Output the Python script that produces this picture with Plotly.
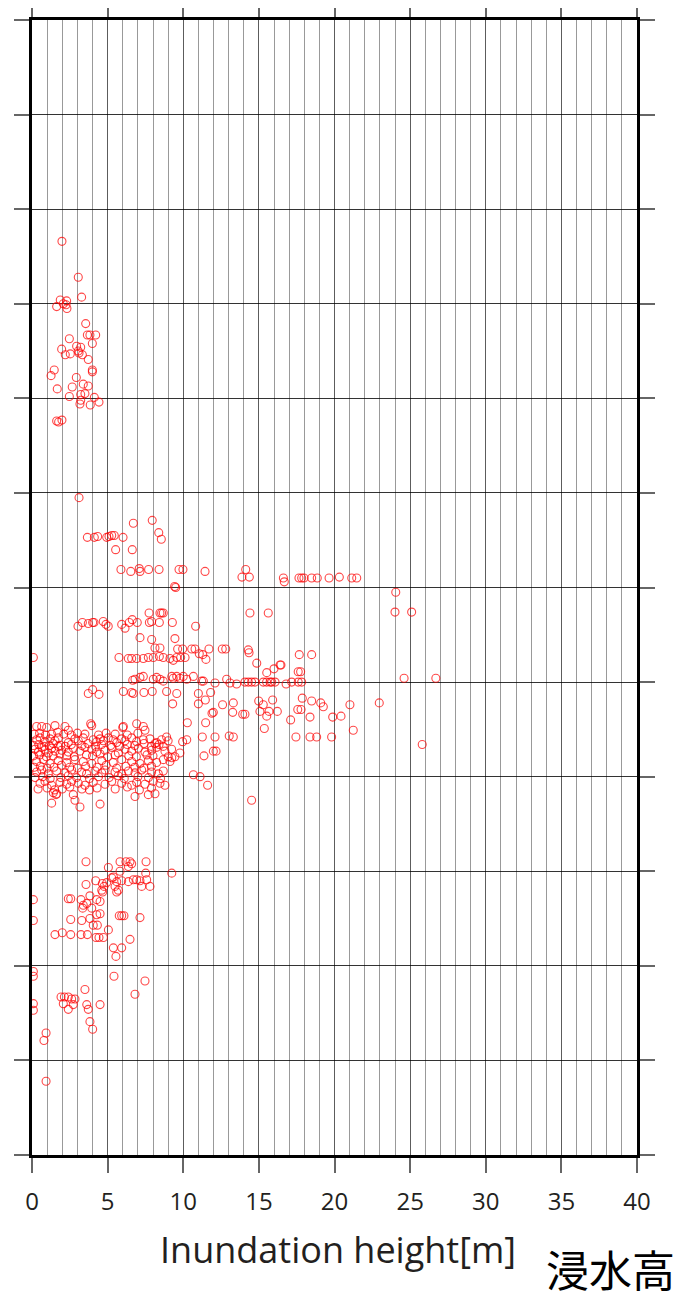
import plotly.graph_objects as go

# ---- data: inundation height [m] (x) and along-coast position (y, grid units, no labels) ----
top_x = [1.98, 3.06, 3.28, 1.87, 2.29, 1.63, 2.25, 2.31, 2.07, 3.55, 3.66, 3.83, 4.21, 3.99, 2.47,
         1.96, 2.95, 3.22, 3.06, 3.11, 2.20, 2.53, 3.33, 3.72, 1.47, 1.26, 3.99, 3.99, 2.93, 1.67,
         2.66, 3.39, 3.72, 3.50, 3.22, 2.47, 4.12, 4.43, 3.85, 3.17, 3.22, 1.63, 1.98, 1.76, 3.11]
top_y = [9.66, 9.28, 9.07, 9.04, 9.03, 8.97, 8.99, 8.95, 9.00, 8.79, 8.67, 8.67, 8.67, 8.58, 8.63,
         8.52, 8.55, 8.54, 8.50, 8.48, 8.46, 8.47, 8.46, 8.41, 8.30, 8.24, 8.28, 8.30, 8.22, 8.10,
         8.12, 8.15, 8.13, 8.05, 8.04, 8.02, 8.01, 7.96, 7.93, 7.94, 7.98, 7.76, 7.77, 7.75, 6.95]

mid_x = [6.70, 7.95, 8.38, 8.55, 3.66, 4.12, 4.34, 4.94, 5.09, 5.27, 5.44, 6.02, 5.53, 6.63,
         5.88, 6.53, 7.09, 7.14, 7.71, 8.40, 9.72, 9.98, 11.44, 14.13, 13.88, 14.37, 16.62, 16.68,
         17.65, 17.83, 17.98, 18.49, 18.86, 19.64, 20.32, 21.14, 21.47, 9.43, 9.50, 24.05, 24.00, 25.10,
         7.74, 8.46, 8.57, 8.68, 14.41, 15.62,
         3.04, 3.33, 3.72, 4.01, 4.10, 4.71, 4.89, 5.04, 5.93, 6.15, 6.43, 6.63, 6.96, 7.76, 7.91,
         8.42, 9.28, 10.82, 7.14, 7.91, 9.45,
         8.13, 8.46, 9.63, 9.96, 10.56, 10.78, 11.70, 12.58, 12.81, 14.30, 11.06, 11.29, 11.50, 14.35,
         14.86, 16.40, 15.52, 16.00, 17.60, 17.76, 17.67, 18.49, 16.46,
         0.09, 5.75, 6.37, 6.59, 6.92, 7.36, 7.69, 8.02, 8.42, 8.68, 9.12, 9.34, 9.57, 9.83, 10.12]
mid_y = [6.68, 6.71, 6.58, 6.51, 6.53, 6.53, 6.54, 6.53, 6.54, 6.55, 6.55, 6.53, 6.40, 6.40,
         6.19, 6.17, 6.20, 6.17, 6.19, 6.19, 6.19, 6.19, 6.17, 6.19, 6.11, 6.11, 6.10, 6.06,
         6.10, 6.10, 6.10, 6.10, 6.10, 6.10, 6.11, 6.10, 6.10, 6.01, 6.00, 5.95, 5.74, 5.74,
         5.73, 5.73, 5.73, 5.73, 5.73, 5.73,
         5.59, 5.63, 5.62, 5.63, 5.63, 5.64, 5.61, 5.59, 5.61, 5.57, 5.63, 5.66, 5.63, 5.63, 5.64,
         5.63, 5.63, 5.59, 5.47, 5.45, 5.46,
         5.36, 5.36, 5.35, 5.35, 5.35, 5.35, 5.35, 5.35, 5.35, 5.34, 5.30, 5.29, 5.24, 5.31,
         5.20, 5.18, 5.10, 5.14, 5.11, 5.11, 5.29, 5.29, 5.18,
         5.26, 5.26, 5.25, 5.25, 5.25, 5.25, 5.26, 5.26, 5.27, 5.26, 5.25, 5.23, 5.26, 5.26, 5.26]

five_x = [6.66, 6.81, 7.14, 7.36, 8.02, 8.24, 8.46, 8.68, 9.24, 9.34, 9.57, 9.78, 10.00, 10.23,
          10.67, 11.22, 11.33, 12.10, 12.87, 13.09, 13.53, 14.08, 14.30, 14.52, 14.74, 15.29, 15.51,
          15.74, 15.85, 16.07, 16.80, 17.17, 17.60, 17.83, 24.60, 26.70,
          3.72, 4.01, 4.43, 6.04, 6.59, 6.70, 7.40, 7.95, 8.90, 9.57, 9.30, 11.00, 11.81, 11.46, 11.00,
          12.60, 13.31, 13.27, 14.08, 13.93, 14.99, 15.29, 15.91, 15.07, 15.52, 15.67, 16.22, 17.10,
          17.87, 18.49, 19.09, 19.26, 17.57, 17.79, 18.38, 19.88, 20.43, 11.99, 11.90, 10.27, 11.48,
          15.36, 22.96, 21.02, 21.24, 19.81, 25.80,
          11.26, 12.10, 13.04, 13.31, 17.45, 18.38, 18.82, 11.37, 11.99, 12.17, 10.67, 11.11, 11.61, 14.52]
five_y = [5.02, 5.03, 5.05, 5.06, 5.03, 5.05, 5.03, 5.01, 5.06, 5.04, 5.06, 5.04, 5.06, 5.03,
          5.06, 5.01, 5.01, 4.99, 5.03, 4.99, 4.98, 5.00, 5.00, 5.00, 5.00, 5.00, 5.00,
          5.00, 5.00, 5.00, 4.98, 5.00, 5.00, 5.00, 5.04, 5.04,
          4.88, 4.92, 4.87, 4.90, 4.89, 4.88, 4.89, 4.90, 4.90, 4.88, 4.77, 4.88, 4.89, 4.81, 4.77,
          4.76, 4.78, 4.68, 4.66, 4.66, 4.80, 4.76, 4.81, 4.69, 4.64, 4.69, 4.69, 4.60,
          4.83, 4.80, 4.78, 4.74, 4.71, 4.71, 4.63, 4.63, 4.64, 4.68, 4.67, 4.57, 4.57,
          4.51, 4.78, 4.76, 4.49, 4.42, 4.34,
          4.42, 4.42, 4.43, 4.42, 4.42, 4.42, 4.42, 4.22, 4.27, 4.27, 4.02, 4.00, 3.91, 3.75]

dense_x = [0.31, 0.64, 0.97, 1.52, 2.18, 3.95, 6.04, 7.36, 2.40, 7.47, 3.88, 6.00, 6.92,
           0.31, 0.53, 0.86, 1.19, 1.52, 1.74, 2.40, 2.84, 3.06, 3.39, 4.05, 4.28, 4.50, 4.71, 5.04,
           5.37, 5.60, 5.93, 6.15, 6.59, 6.92, 7.36, 7.80, 8.24, 8.57, 9.00, 8.90, 10.23, 9.96,
           0.20, 0.42, 0.64, 0.86, 1.08, 1.30, 1.52, 1.74, 1.96, 2.40, 2.73, 3.17, 3.50, 3.95, 4.28,
           4.83, 5.27, 5.71, 6.15, 6.59, 7.03, 7.47, 7.91, 8.24, 8.79, 9.23, 9.78, 9.45, 9.24, 9.01,
           8.68, 8.13,
           0.31, 0.75, 1.19, 1.74, 2.29, 2.84, 3.39, 3.95, 4.61, 5.37, 5.93, 6.59, 7.14, 7.69, 8.24,
           8.68, 9.12,
           0.31, 0.64, 1.08, 1.63, 2.18, 2.62, 3.28, 3.61, 4.17, 4.61, 4.83, 5.49, 5.93, 6.37, 6.81,
           7.25, 7.91, 8.35, 8.68,
           0.53, 0.86, 1.30, 1.85, 2.29, 2.62, 3.06, 3.50, 4.05, 4.83, 5.27, 5.93, 6.59, 6.92, 7.47,
           8.02, 8.46, 8.79,
           1.63, 2.73, 2.84, 3.17, 4.50, 6.81, 7.69, 8.13, 1.30, 1.59, 1.41]
dense_y = [4.53, 4.53, 4.52, 4.54, 4.53, 4.54, 4.53, 4.53, 4.49, 4.49, 4.56, 4.52, 4.56,
           4.39, 4.41, 4.37, 4.40, 4.38, 4.41, 4.36, 4.40, 4.38, 4.41, 4.39, 4.37, 4.40, 4.38, 4.41,
           4.39, 4.36, 4.40, 4.38, 4.41, 4.37, 4.39, 4.40, 4.36, 4.39, 4.38, 4.42, 4.39, 4.37,
           4.29, 4.26, 4.31, 4.28, 4.25, 4.30, 4.27, 4.32, 4.28, 4.26, 4.30, 4.27, 4.31, 4.29, 4.26,
           4.28, 4.31, 4.25, 4.29, 4.27, 4.30, 4.26, 4.28, 4.31, 4.27, 4.29, 4.25, 4.21, 4.20, 4.21,
           4.32, 4.35,
           4.16, 4.18, 4.14, 4.17, 4.15, 4.18, 4.16, 4.14, 4.17, 4.15, 4.18, 4.16, 4.14, 4.17, 4.15,
           4.18, 4.16,
           4.05, 4.07, 4.03, 4.06, 4.04, 4.07, 4.05, 4.03, 4.06, 4.04, 4.07, 4.05, 4.03, 4.06, 4.04,
           4.07, 4.05, 4.03, 4.06,
           3.93, 3.95, 3.91, 3.94, 3.92, 3.95, 3.93, 3.91, 3.94, 3.92, 3.95, 3.93, 3.91, 3.94, 3.92,
           3.95, 3.93, 3.91,
           3.82, 3.81, 3.75, 3.68, 3.71, 3.79, 3.81, 3.82, 3.72, 3.81, 3.83]

# additional overlapping readings inside the dense cluster
fill_x = [0.15, 0.50, 0.90, 1.30, 1.70, 2.10, 2.60, 3.00, 3.50, 4.40, 4.90, 5.50, 6.30, 7.00,
          0.10, 0.45, 0.80, 1.15, 1.40, 1.90, 2.20, 2.60, 3.30, 3.70, 4.20, 4.60, 5.20, 5.80, 6.30,
          6.80, 7.40, 7.90, 8.40,
          0.10, 0.50, 0.95, 1.40, 1.85, 2.30, 2.80, 3.60, 4.00, 4.50, 5.00, 5.50, 6.40, 6.90, 7.60, 8.00,
          0.15, 0.55, 1.00, 1.45, 1.95, 2.50, 3.00, 3.55, 4.30, 4.90, 5.60, 6.20, 6.80, 7.40, 7.90,
          0.20, 0.70, 1.20, 1.90, 2.40, 2.95, 3.80, 4.40, 5.10, 5.70, 6.10, 7.00, 7.70, 8.50,
          0.40, 1.00, 1.50, 2.00, 2.50, 3.30, 3.80, 4.30, 5.50, 6.30, 7.10, 7.90]
fill_y = [4.45, 4.46, 4.44, 4.45, 4.47, 4.45, 4.44, 4.46, 4.45, 4.44, 4.46, 4.45, 4.44, 4.46,
          4.33, 4.34, 4.32, 4.33, 4.35, 4.33, 4.32, 4.34, 4.33, 4.35, 4.32, 4.34, 4.33, 4.32, 4.34,
          4.33, 4.35, 4.32, 4.34,
          4.22, 4.23, 4.21, 4.22, 4.24, 4.22, 4.21, 4.23, 4.22, 4.24, 4.21, 4.23, 4.22, 4.21, 4.23, 4.22,
          4.10, 4.11, 4.09, 4.10, 4.12, 4.10, 4.09, 4.11, 4.10, 4.12, 4.09, 4.11, 4.10, 4.09, 4.11,
          3.99, 4.00, 3.98, 3.99, 4.01, 3.99, 3.98, 4.00, 3.99, 4.01, 3.98, 4.00, 3.99, 3.98,
          3.87, 3.88, 3.86, 3.87, 3.89, 3.87, 3.86, 3.88, 3.87, 3.89, 3.86, 3.88]

low_x = [3.57, 5.05, 5.82, 6.21, 6.48, 6.59, 6.37, 7.54, 9.24, 7.52, 5.82, 5.38, 5.27,
         4.21, 3.57, 4.65, 4.76, 4.61, 4.94, 5.60, 5.93, 6.37, 6.70, 6.92, 7.14, 7.58, 7.80, 7.25,
         5.49, 5.71, 4.67, 5.60, 0.09, 0.09, 2.40, 2.56, 3.24, 3.83, 4.28, 4.50, 3.39, 3.62, 3.35,
         3.95, 4.50, 4.28, 3.83, 3.29, 2.56, 4.05, 4.32, 5.05, 5.77, 5.93, 6.08, 7.14,
         1.52, 2.00, 2.56, 3.24, 3.66, 4.23, 4.43, 4.72, 6.48, 5.38, 5.93, 5.55, 0.09, 0.09, 5.42,
         7.47, 6.81, 3.50, 1.92, 2.14, 2.40, 2.62, 2.84, 2.07, 2.40, 2.73, 3.62, 3.72, 4.50, 3.83,
         4.01, 0.09, 0.09, 0.93, 0.79, 0.93]
low_y = [3.10, 3.04, 3.10, 3.10, 3.10, 3.08, 3.05, 3.10, 2.98, 2.98, 3.00, 2.94, 2.93,
         2.90, 2.86, 2.87, 2.84, 2.80, 2.88, 2.89, 2.90, 2.89, 2.91, 2.91, 2.90, 2.91, 2.84, 2.84,
         2.84, 2.80, 2.78, 2.78, 2.70, 2.48, 2.71, 2.71, 2.70, 2.74, 2.70, 2.68, 2.64, 2.66, 2.61,
         2.61, 2.55, 2.54, 2.50, 2.48, 2.49, 2.43, 2.43, 2.38, 2.53, 2.53, 2.53, 2.51,
         2.33, 2.35, 2.33, 2.33, 2.33, 2.30, 2.30, 2.30, 2.28, 2.19, 2.19, 2.10, 1.94, 1.89, 1.89,
         1.84, 1.70, 1.75, 1.67, 1.67, 1.67, 1.65, 1.65, 1.60, 1.54, 1.59, 1.59, 1.54, 1.59, 1.41,
         1.33, 1.60, 1.53, 1.29, 1.21, 0.78]

x_vals = top_x + mid_x + five_x + dense_x + fill_x + low_x
y_vals = top_y + mid_y + five_y + dense_y + fill_y + low_y

x_ticks = [0, 5, 10, 15, 20, 25, 30, 35, 40]
y_ticks = list(range(0, 13))

fig = go.Figure()
fig.add_trace(go.Scatter(
    x=x_vals, y=y_vals, mode="markers",
    marker=dict(symbol="circle-open", size=8, color="rgba(255,0,0,0.72)",
                line=dict(width=1.1, color="rgba(255,0,0,0.72)")),
    showlegend=False, hoverinfo="skip"))

fig.update_layout(
    width=691, height=1293,
    margin=dict(l=24, r=62, t=12, b=146, autoexpand=False),
    paper_bgcolor="white", plot_bgcolor="white",
    font=dict(family="Open Sans, Noto Sans, sans-serif", color="#231f20"),
    xaxis=dict(
        range=[0, 40], tickvals=x_ticks, ticktext=[str(v) for v in x_ticks],
        ticks="outside", ticklen=15, tickwidth=2, tickcolor="#666",
        showline=True, linewidth=3, linecolor="black", mirror="ticks",
        showgrid=True, gridcolor="rgba(0,0,0,0.4)", gridwidth=1,
        minor=dict(dtick=1, showgrid=True, gridcolor="rgba(0,0,0,0.4)", gridwidth=1),
        tickfont=dict(size=24, color="#231f20"), ticklabelstandoff=8,
        zeroline=False, fixedrange=True, automargin=False),
    yaxis=dict(
        range=[0, 12], tickvals=y_ticks, showticklabels=False,
        ticks="outside", ticklen=15, tickwidth=2, tickcolor="#666",
        showline=True, linewidth=3, linecolor="black", mirror="ticks",
        showgrid=True, gridcolor="rgba(0,0,0,0.8)", gridwidth=1,
        zeroline=False, fixedrange=True, automargin=False),
    annotations=[
        dict(text="Inundation height[m]", xref="paper", yref="paper", x=0.505, y=-0.0837,
             xanchor="center", yanchor="middle", showarrow=False,
             font=dict(size=36, color="#231f20")),
        dict(text="浸水高", xref="paper", yref="paper", x=(668 - 24) / 605, y=-0.0996,
             xanchor="right", yanchor="middle", showarrow=False, borderpad=0,
             font=dict(size=43, color="black", family="Noto Sans CJK JP")),
    ],
)

fig.write_html("out.html")
